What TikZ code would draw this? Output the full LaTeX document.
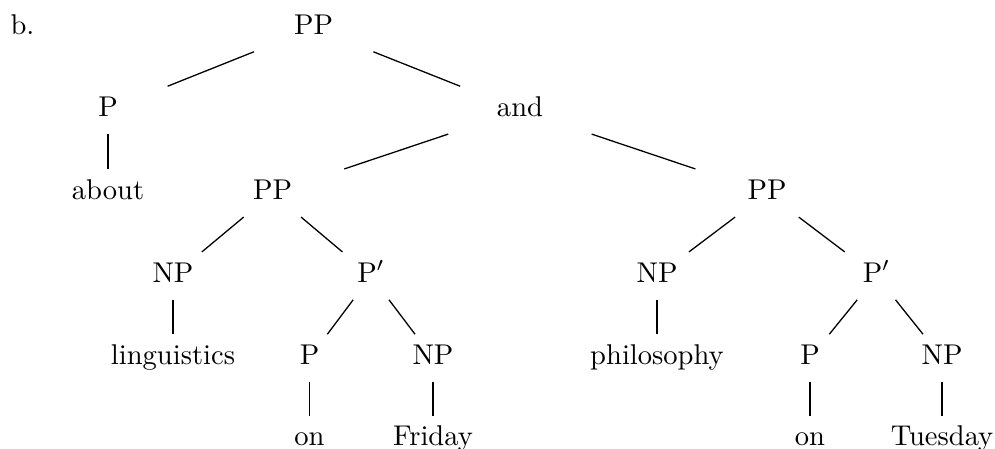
\documentclass[tikz,border=0pt]{standalone}
\usetikzlibrary{calc}
\begin{document}
\begin{tikzpicture}[x=0.35pt,y=-0.35pt,cat/.style={inner sep=0pt,anchor=base,text height=7pt,text depth=2.8pt},branch/.style={line width=0.45pt}]
\useasboundingbox (0,0) rectangle (995,448);
\node[cat,anchor=base west] (lbl) at (10,34) {b.};
\node[cat] (pp) at (313.5,34) {PP};
\node[cat] (p) at (108,116) {P};
\node[cat] (and) at (520,116) {and};
\node[cat] (about) at (108,199) {about};
\node[cat] (ppa) at (272.5,199) {PP};
\node[cat] (ppb) at (767,199) {PP};
\node[cat] (npa) at (173,282) {NP};
\node[cat] (pbara) at (371,282) {P$'$};
\node[cat] (npc) at (657,282) {NP};
\node[cat] (pbarb) at (876.5,282) {P$'$};
\node[cat] (ling) at (173,364) {linguistics};
\node[cat] (pa) at (309.5,364) {P};
\node[cat] (npb) at (433,364) {NP};
\node[cat] (phil) at (657,364) {philosophy};
\node[cat] (pb) at (810,364) {P};
\node[cat] (npd) at (942,364) {NP};
\node[cat] (ona) at (309.5,445) {on};
\node[cat] (fri) at (433,445) {Friday};
\node[cat] (onb) at (810,445) {on};
\node[cat] (tue) at (942,445) {Tuesday};
\draw[branch] ($(pp)!.29!(p)$) -- ($(p)!.29!(pp)$);
\draw[branch] ($(pp)!.29!(and)$) -- ($(and)!.29!(pp)$);
\draw[branch] ($(p)!.29!(about)$) -- ($(about)!.29!(p)$);
\draw[branch] ($(and)!.29!(ppa)$) -- ($(ppa)!.29!(and)$);
\draw[branch] ($(and)!.29!(ppb)$) -- ($(ppb)!.29!(and)$);
\draw[branch] ($(ppa)!.29!(npa)$) -- ($(npa)!.29!(ppa)$);
\draw[branch] ($(ppa)!.29!(pbara)$) -- ($(pbara)!.29!(ppa)$);
\draw[branch] ($(npa)!.29!(ling)$) -- ($(ling)!.29!(npa)$);
\draw[branch] ($(pbara)!.29!(pa)$) -- ($(pa)!.29!(pbara)$);
\draw[branch] ($(pbara)!.29!(npb)$) -- ($(npb)!.29!(pbara)$);
\draw[branch] ($(pa)!.29!(ona)$) -- ($(ona)!.29!(pa)$);
\draw[branch] ($(npb)!.29!(fri)$) -- ($(fri)!.29!(npb)$);
\draw[branch] ($(ppb)!.29!(npc)$) -- ($(npc)!.29!(ppb)$);
\draw[branch] ($(ppb)!.29!(pbarb)$) -- ($(pbarb)!.29!(ppb)$);
\draw[branch] ($(npc)!.29!(phil)$) -- ($(phil)!.29!(npc)$);
\draw[branch] ($(pbarb)!.29!(pb)$) -- ($(pb)!.29!(pbarb)$);
\draw[branch] ($(pbarb)!.29!(npd)$) -- ($(npd)!.29!(pbarb)$);
\draw[branch] ($(pb)!.29!(onb)$) -- ($(onb)!.29!(pb)$);
\draw[branch] ($(npd)!.29!(tue)$) -- ($(tue)!.29!(npd)$);
\end{tikzpicture}
\end{document}
